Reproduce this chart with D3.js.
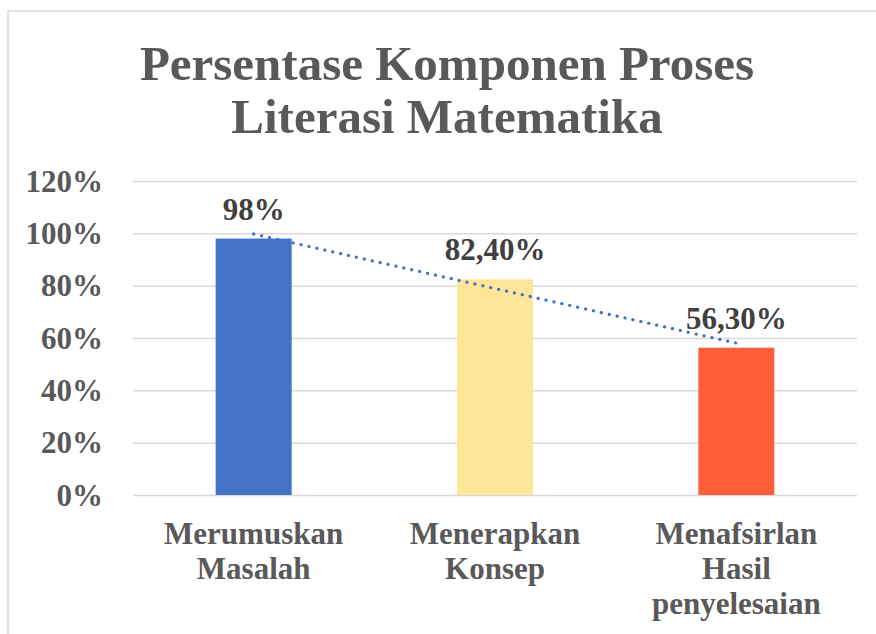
<!DOCTYPE html>
<html>
<head>
<meta charset="utf-8">
<script src="https://cdn.jsdelivr.net/npm/d3@7"></script>
<style>
  body { margin: 0; background: #fff; }
  text { font-family: "Liberation Serif", "Times New Roman", serif; font-weight: bold; }
</style>
</head>
<body>
<div id="mainbox"></div>
<script>
const categories = [["Merumuskan", "Masalah"], ["Menerapkan", "Konsep"], ["Menafsirlan", "Hasil", "penyelesaian"]];
const values = [98, 82.4, 56.3];
const valueLabels = ["98%", "82,40%", "56,30%"];
const barColors = ["#4472C4", "#FFE699", "#FF5F38"];
const yTicks = [0, 20, 40, 60, 80, 100, 120];
const titleLines = ["Persentase Komponen Proses", "Literasi Matematika"];

const W = 876, H = 634;
const margin = {t: 181, r: 19, b: 139, l: 133};
const w = W - margin.l - margin.r,
      h = H - margin.t - margin.b;

const svg = d3.select('#mainbox')
  .append('svg')
  .attr('width', W)
  .attr('height', H);

// chart frame (only top and left edges visible in the crop)
svg.append('rect')
  .attr('x', 8).attr('y', 11)
  .attr('width', W + 20).attr('height', H + 20)
  .attr('fill', 'none')
  .attr('stroke', '#D9D9D9')
  .attr('stroke-width', 1.5);

svg.append('g')
  .selectAll('text')
  .data(titleLines)
  .enter()
  .append('text')
  .attr('x', 447)
  .attr('y', (d, i) => 80 + i * 53)
  .attr('text-anchor', 'middle')
  .attr('fill', '#595959')
  .style('font-size', '49px')
  .text(d => d);

const plot = svg.append('g')
  .attr('transform', `translate(${margin.l},${margin.t})`);

const scaleX = d3.scaleBand()
  .domain(d3.range(values.length))
  .range([0, w])
  .paddingInner(0.685)
  .paddingOuter(0.3425);

const scaleY = d3.scaleLinear().domain([0, 120]).range([h, 0]);

const axisY = d3.axisLeft(scaleY)
  .tickValues(yTicks)
  .tickSize(-w)
  .tickFormat(d => d + '%');

const axisYNode = plot.append('g')
  .attr('class', 'axis axis-y')
  .call(axisY);
axisYNode.select('.domain').remove();
axisYNode.selectAll('line')
  .attr('stroke', '#D9D9D9')
  .attr('stroke-width', 1.5);
axisYNode.selectAll('text')
  .attr('x', -30)
  .attr('dy', '0.33em')
  .attr('fill', '#595959')
  .style('font-size', '31px');

//bars
plot.selectAll('.bar')
  .data(values)
  .enter()
  .append('rect')
  .attr('class', 'bar')
  .attr('x', (d, i) => scaleX(i))
  .attr('y', d => scaleY(d))
  .attr('width', scaleX.bandwidth())
  .attr('height', d => h - scaleY(d))
  .attr('fill', (d, i) => barColors[i]);

// linear trendline through the bar values
const n = values.length;
const xs = d3.range(1, n + 1);
const mx = d3.mean(xs), my = d3.mean(values);
const slope = d3.sum(xs, (x, i) => (x - mx) * (values[i] - my)) / d3.sum(xs, x => (x - mx) * (x - mx));
const icpt = my - slope * mx;
const trend = [1, n].map(x => [scaleX(x - 1) + scaleX.bandwidth() / 2, scaleY(icpt + slope * x)]);

plot.append('path')
  .attr('d', d3.line()(trend))
  .attr('fill', 'none')
  .attr('stroke', '#4472C4')
  .attr('stroke-width', 3.2)
  .attr('stroke-linecap', 'round')
  .attr('stroke-dasharray', '0.1 8');

//value labels
plot.selectAll('.val')
  .data(values)
  .enter()
  .append('text')
  .attr('class', 'val')
  .attr('x', (d, i) => scaleX(i) + scaleX.bandwidth() / 2)
  .attr('y', d => scaleY(d) - 19)
  .attr('text-anchor', 'middle')
  .attr('fill', '#404040')
  .style('font-size', '31px')
  .text((d, i) => valueLabels[i]);

//category labels
const cat = plot.selectAll('.cat')
  .data(categories)
  .enter()
  .append('text')
  .attr('class', 'cat')
  .attr('text-anchor', 'middle')
  .attr('fill', '#595959')
  .style('font-size', '31px');

cat.selectAll('tspan')
  .data((d, i) => d.map(s => ({s, i})))
  .enter()
  .append('tspan')
  .attr('x', d => scaleX(d.i) + scaleX.bandwidth() / 2)
  .attr('y', (d, j) => h + 49 + j * 35)
  .text(d => d.s);
</script>
</body>
</html>
